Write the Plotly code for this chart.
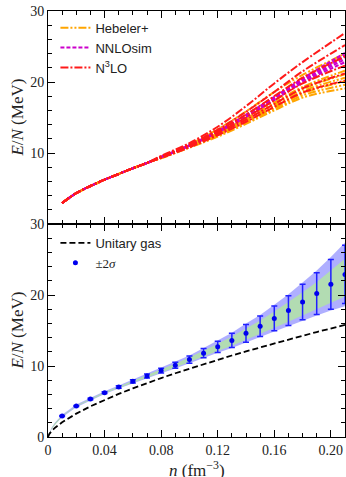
import plotly.graph_objects as go

# ---------------- data ----------------
# top panel: shared low-density part, then per-curve values
n_low = [0.01, 0.02, 0.03, 0.04, 0.05, 0.06, 0.07]
E_low = [2.95, 4.35, 5.35, 6.25, 7.05, 7.85, 8.6]
n_high = [0.08, 0.10, 0.12, 0.14, 0.16, 0.18, 0.21]

hebeler = [
    [9.5, 11.2, 13.35, 15.85, 18.6, 21.0, 24.0],
    [9.4, 11.0, 12.8, 14.9, 17.1, 19.3, 21.6],
    [9.35, 10.95, 12.7, 14.7, 16.85, 19.0, 21.1],
    [9.35, 10.9, 12.6, 14.55, 16.6, 18.7, 20.6],
    [9.3, 10.85, 12.5, 14.4, 16.4, 18.4, 20.1],
    [9.3, 10.8, 12.4, 14.25, 16.2, 18.1, 19.6],
    [9.25, 10.75, 12.3, 14.1, 16.0, 17.8, 19.1],
]
nnlosim = [
    [9.45, 11.1, 13.1, 15.4, 17.9, 20.5, 24.1],
    [9.45, 11.1, 13.05, 15.3, 17.8, 20.4, 23.8],
    [9.4, 11.05, 13.0, 15.2, 17.7, 20.2, 23.5],
    [9.4, 11.0, 12.95, 15.15, 17.6, 20.05, 23.2],
    [9.4, 11.0, 12.9, 15.05, 17.45, 19.9, 22.8],
]
n3lo = [
    [9.6, 11.4, 13.7, 16.6, 19.8, 22.8, 26.9],
    [9.5, 11.2, 13.3, 15.8, 18.6, 21.5, 25.2],
    [9.45, 11.1, 13.1, 15.4, 18.0, 20.6, 23.6],
    [9.4, 11.0, 12.9, 15.0, 17.4, 19.8, 22.3],
    [9.35, 10.9, 12.7, 14.7, 16.9, 19.1, 21.2],
    [9.3, 10.8, 12.5, 14.4, 16.5, 18.5, 20.2],
]

# bottom panel
n_pts = [0.01, 0.02, 0.03, 0.04, 0.05, 0.06, 0.07, 0.08, 0.09, 0.10, 0.11,
         0.12, 0.13, 0.14, 0.15, 0.16, 0.17, 0.18, 0.19, 0.20, 0.21]
E_pts = [2.96, 4.37, 5.35, 6.25, 7.04, 7.84, 8.60, 9.35, 10.1, 10.9, 11.8,
         12.7, 13.6, 14.6, 15.6, 16.7, 17.8, 19.0, 20.2, 21.5, 22.9]
E_err = [0.06, 0.08, 0.10, 0.14, 0.18, 0.22, 0.28, 0.34, 0.42, 0.52, 0.65,
         0.80, 1.0, 1.25, 1.45, 1.75, 2.1, 2.5, 2.95, 3.5, 4.1]

n_band = [0.0, 0.0025, 0.005] + n_pts
blue_hi = [0, 1.32, 2.05, 3.14, 4.56, 5.55, 6.45, 7.25, 8.08, 8.90, 9.72, 10.56, 11.47,
           12.52, 13.58, 14.70, 15.98, 17.20, 18.63, 20.11, 21.75, 23.45, 25.35, 27.4]
blue_lo = [0, 1.08, 1.75, 2.78, 4.18, 5.15, 6.05, 6.83, 7.61, 8.30, 8.99, 9.66, 10.35,
           11.12, 11.86, 12.55, 13.29, 14.08, 14.86, 15.60, 16.38, 17.10, 17.83, 18.4]
green_hi = [0, 1.26, 1.98, 3.04, 4.45, 5.43, 6.33, 7.13, 7.96, 8.75, 9.54, 10.33, 11.19,
            12.16, 13.14, 14.15, 15.29, 16.40, 17.66, 18.96, 20.38, 21.82, 23.43, 25.1]
green_lo = [0, 1.14, 1.82, 2.88, 4.28, 5.26, 6.14, 6.90, 7.67, 8.39, 9.09, 9.78, 10.51,
            11.31, 12.10, 12.85, 13.66, 14.51, 15.39, 16.23, 17.13, 17.99, 18.88, 19.8]

n_unit = [0.0, 0.001, 0.0025, 0.005, 0.01, 0.02, 0.03, 0.04, 0.05, 0.06, 0.07, 0.08,
          0.09, 0.10, 0.11, 0.12, 0.13, 0.14, 0.15, 0.16, 0.17, 0.18, 0.19, 0.20, 0.21]
E_unit = [0.0, 0.45, 0.82, 1.31, 2.07, 3.29, 4.32, 5.23, 6.07, 6.85, 7.60, 8.30,
          8.98, 9.63, 10.27, 10.88, 11.48, 12.06, 12.63, 13.18, 13.72, 14.26, 14.78, 15.29, 15.8]

x_tickvals = [0, 0.04, 0.08, 0.12, 0.16, 0.20]
x_ticktext = ["0", "0.04", "0.08", "0.12", "0.16", "0.20"]

# ---------------- figure ----------------
SERIF = "Liberation Serif"
SANS = "Liberation Sans"
TXT = "#222"
fig = go.Figure()

families = [
    ("Hebeler+", hebeler, "#FFA500", "8px,2px,2px,2px,2px,2px", 1),
    ("NNLOsim", nnlosim, "#CC00CC", "4px,2px", 2),
    ("N<sup>3</sup>LO", n3lo, "#FF1A1A", "8px,2px,2px,2px", 3),
]
for name, curves, color, dash, rank in families:
    for i, c in enumerate(curves):
        fig.add_trace(go.Scatter(
            x=n_low + n_high, y=E_low + c, mode="lines",
            line=dict(color=color, width=2, dash=dash, shape="spline", smoothing=1.0),
            name=name, legendgroup=name, showlegend=(i == 0), legendrank=rank,
            xaxis="x2", yaxis="y2", legend="legend", hoverinfo="skip"))

# bands
fig.add_trace(go.Scatter(
    x=n_band + n_band[::-1], y=blue_hi + blue_lo[::-1], fill="toself",
    fillcolor="rgba(95,95,255,0.5)", line=dict(width=0), mode="lines",
    showlegend=False, xaxis="x", yaxis="y", hoverinfo="skip"))
fig.add_trace(go.Scatter(
    x=n_band + n_band[::-1], y=green_hi + green_lo[::-1], fill="toself",
    fillcolor="rgba(178,220,178,1)", line=dict(width=0), mode="lines",
    showlegend=False, xaxis="x", yaxis="y", hoverinfo="skip"))

fig.add_trace(go.Scatter(
    x=n_unit, y=E_unit, mode="lines", name="Unitary gas",
    line=dict(color="black", width=1.8, dash="6px,3px"),
    xaxis="x", yaxis="y", legend="legend2", legendrank=1))
fig.add_trace(go.Scatter(
    x=n_pts, y=E_pts, mode="markers",
    name="<span style='font-family:Liberation Serif'>±2<i>σ</i></span>",
    marker=dict(color="#0000EE", size=5),
    error_y=dict(type="data", array=E_err, color="#2020FF", thickness=1.5, width=3),
    xaxis="x", yaxis="y", legend="legend2", legendrank=2))

axis_common = dict(
    showline=True, linecolor="black", linewidth=1, mirror="allticks",
    ticks="inside", ticklen=7, tickwidth=1, tickcolor="black",
    showgrid=False, zeroline=False, automargin=False,
    tickfont=dict(family=SERIF, size=14, color=TXT),
)
minor_x = dict(dtick=0.01, tick0=0, ticks="inside", ticklen=4, tickcolor="black", showgrid=False)
minor_y = dict(dtick=2, tick0=0, ticks="inside", ticklen=4, tickcolor="black", showgrid=False)

fig.update_layout(
    width=346, height=477,
    margin=dict(l=48, r=1, t=11, b=40),
    paper_bgcolor="white", plot_bgcolor="white",
    xaxis=dict(domain=[0, 1], range=[0, 0.21], tickvals=x_tickvals, ticktext=x_ticktext,
               minor=minor_x, anchor="y", **axis_common),
    yaxis=dict(domain=[0, 0.5], range=[0, 30], tickvals=[0, 10, 20, 30],
               ticktext=["0", "10", "20", "30"], minor=minor_y, anchor="x", **axis_common),
    xaxis2=dict(domain=[0, 1], range=[0, 0.21], tickvals=x_tickvals, showticklabels=False,
                minor=minor_x, anchor="y2", matches="x", **axis_common),
    yaxis2=dict(domain=[0.5, 1], range=[0, 30], tickvals=[0, 10, 20, 30],
                ticktext=["", "10", "20", "30"], minor=minor_y, anchor="x2", **axis_common),
    legend=dict(x=0.025, y=0.996, xanchor="left", yanchor="top", bgcolor="rgba(255,255,255,0)",
                font=dict(family=SANS, size=13, color=TXT), traceorder="normal"),
    legend2=dict(x=0.025, y=0.491, xanchor="left", yanchor="top", bgcolor="rgba(255,255,255,0)",
                 font=dict(family=SANS, size=13, color=TXT), traceorder="normal"),
)

title_font = dict(family=SERIF, size=17, color=TXT)
ytxt = "<i>E</i>/<i>N</i> (MeV)"
for yc in (0.75, 0.25):
    fig.add_annotation(text=ytxt, xref="paper", yref="paper", x=-0.104, y=yc,
                       xanchor="center", yanchor="middle", textangle=-90,
                       showarrow=False, font=title_font)
fig.add_annotation(text="<i>n</i> (fm<sup>−3</sup>)", xref="paper", yref="paper",
                   x=0.5, y=-0.075, xanchor="center", yanchor="middle",
                   showarrow=False, font=title_font)

fig.write_html("out.html", config={"displayModeBar": False},
               post_script="document.body.style.margin='0px';document.body.style.padding='0px';")
